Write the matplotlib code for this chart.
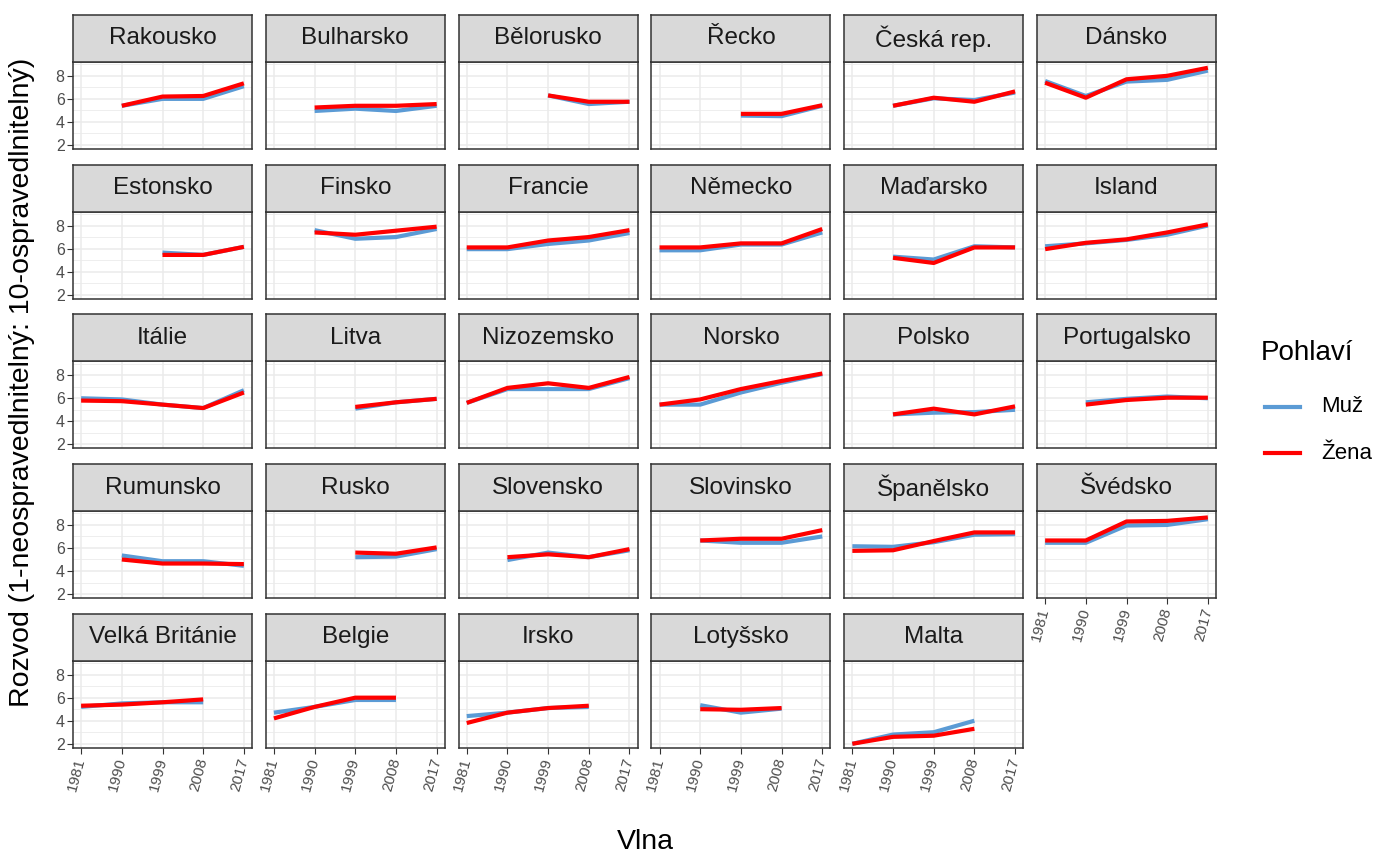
import numpy as np
import matplotlib
matplotlib.use("Agg")
import matplotlib.pyplot as plt
from matplotlib.lines import Line2D

plt.rcParams['font.family'] = ['Liberation Sans', 'DejaVu Sans']

# waves (survey years)
waves = [1981, 1990, 1999, 2008, 2017]

countries = ["Rakousko", "Bulharsko", "Bělorusko", "Řecko", "Česká rep.", "Dánsko",
             "Estonsko", "Finsko", "Francie", "Německo", "Maďarsko", "Island",
             "Itálie", "Litva", "Nizozemsko", "Norsko", "Polsko", "Portugalsko",
             "Rumunsko", "Rusko", "Slovensko", "Slovinsko", "Španělsko", "Švédsko",
             "Velká Británie", "Belgie", "Irsko", "Lotyšsko", "Malta"]

n = np.nan
# Muž
muz = [
    [n, 5.4, 6.0, 6.0, 7.1],
    [n, 4.95, 5.15, 4.95, 5.4],
    [n, n, 6.3, 5.55, 5.75],
    [n, n, 4.55, 4.5, 5.4],
    [n, 5.4, 6.05, 5.9, 6.55],
    [7.55, 6.25, 7.5, 7.65, 8.45],
    [n, n, 5.65, 5.45, 6.15],
    [n, 7.6, 6.85, 7.0, 7.7],
    [5.95, 5.95, 6.4, 6.7, 7.35],
    [5.85, 5.85, 6.35, 6.35, 7.4],
    [n, 5.3, 5.05, 6.2, 6.1],
    [6.2, 6.45, 6.75, 7.2, 8.0],
    [6.0, 5.9, 5.45, 5.15, 6.7],
    [n, n, 5.1, 5.65, 5.95],
    [5.6, 6.8, 6.8, 6.8, 7.75],
    [5.45, 5.45, 6.5, 7.35, 8.1],
    [n, 4.6, 4.75, 4.8, 5.0],
    [n, 5.65, 5.95, 6.15, 6.0],
    [n, 5.35, 4.85, 4.85, 4.45],
    [n, n, 5.2, 5.25, 5.9],
    [n, 4.95, 5.6, 5.2, 5.8],
    [n, 6.65, 6.45, 6.45, 7.0],
    [6.15, 6.1, 6.5, 7.15, 7.2],
    [6.45, 6.45, 7.95, 8.0, 8.5],
    [5.2, 5.5, 5.6, 5.6, n],
    [4.7, 5.2, 5.8, 5.8, n],
    [4.4, 4.7, 5.1, 5.2, n],
    [n, 5.35, 4.7, 5.05, n],
    [2.0, 2.8, 3.0, 4.0, n],
]
# Žena
zena = [
    [n, 5.4, 6.2, 6.25, 7.35],
    [n, 5.25, 5.4, 5.4, 5.55],
    [n, n, 6.3, 5.75, 5.75],
    [n, n, 4.7, 4.7, 5.45],
    [n, 5.4, 6.1, 5.75, 6.65],
    [7.4, 6.1, 7.7, 8.0, 8.7],
    [n, n, 5.45, 5.45, 6.15],
    [n, 7.4, 7.2, 7.55, 7.9],
    [6.1, 6.1, 6.7, 7.0, 7.6],
    [6.1, 6.1, 6.45, 6.45, 7.7],
    [n, 5.2, 4.75, 6.1, 6.1],
    [5.95, 6.5, 6.8, 7.4, 8.1],
    [5.8, 5.75, 5.45, 5.15, 6.5],
    [n, n, 5.25, 5.65, 5.95],
    [5.6, 6.9, 7.3, 6.9, 7.85],
    [5.45, 5.9, 6.8, 7.5, 8.15],
    [n, 4.6, 5.1, 4.6, 5.3],
    [n, 5.45, 5.85, 6.05, 6.05],
    [n, 5.0, 4.65, 4.65, 4.6],
    [n, n, 5.6, 5.5, 6.05],
    [n, 5.2, 5.45, 5.2, 5.9],
    [n, 6.65, 6.8, 6.8, 7.55],
    [5.75, 5.8, 6.6, 7.35, 7.35],
    [6.65, 6.65, 8.3, 8.35, 8.65],
    [5.3, 5.4, 5.6, 5.85, n],
    [4.2, 5.2, 6.0, 6.0, n],
    [3.8, 4.7, 5.1, 5.3, n],
    [n, 5.0, 4.95, 5.1, n],
    [2.0, 2.6, 2.7, 3.3, n],
]

col_muz = "#5B9BD5"
col_zena = "#FF0000"
W, H = 1381, 857
fig = plt.figure(figsize=(W / 100, H / 100), dpi=100)

# layout in pixels
left0, col_step, pw = 73, 192.8, 179
top0, row_step, sh, ph = 15, 149.7, 47, 87
ncol = 6
nrow = 5


def fx(px):
    return px / W


def fy(py):
    return 1 - py / H


for i, name in enumerate(countries):
    r, c = divmod(i, ncol)
    x0 = left0 + c * col_step
    st = top0 + r * row_step
    ax = fig.add_axes([fx(x0), fy(st + sh + ph), pw / W, ph / H])
    sax = fig.add_axes([fx(x0), fy(st + sh), pw / W, sh / H])
    sax.set_facecolor("#D9D9D9")
    sax.set_xticks([])
    sax.set_yticks([])
    for sp in sax.spines.values():
        sp.set_color("#333333")
        sp.set_linewidth(1.1)
    sax.text(0.5, 0.5, name, ha="center", va="center", fontsize=17.5, color="#1A1A1A",
             transform=sax.transAxes)

    ax.plot(waves, muz[i], color=col_muz, lw=3, solid_capstyle="butt")
    ax.plot(waves, zena[i], color=col_zena, lw=3, solid_capstyle="butt")
    ax.set_xlim(1979.2, 2018.8)
    ax.set_ylim(1.65, 9.2)
    ax.set_xticks(waves)
    ax.set_yticks([2, 4, 6, 8])
    ax.set_yticks([3, 5, 7, 9], minor=True)
    ax.grid(True, which="major", color="#EBEBEB", lw=1.1)
    ax.grid(True, which="minor", axis="y", color="#EBEBEB", lw=0.6)
    ax.set_axisbelow(True)
    for sp in ax.spines.values():
        sp.set_color("#333333")
        sp.set_linewidth(1.1)
    ax.tick_params(which="minor", length=0)

    show_x = (r == nrow - 1) or (i + ncol >= len(countries))
    show_y = c == 0
    ax.tick_params(axis="x", length=4 if show_x else 0, color="#333333",
                   labelbottom=show_x, labelsize=11, labelcolor="#4D4D4D")
    ax.tick_params(axis="y", length=4 if show_y else 0, color="#333333",
                   labelleft=show_y, labelsize=11.5, labelcolor="#4D4D4D", pad=2)
    if show_x:
        for lab in ax.get_xticklabels():
            lab.set_rotation(75)
            lab.set_ha("right")
            lab.set_va("center")
            lab.set_rotation_mode("anchor")

fig.text(fx(22), fy(382), "Rozvod (1-neospravedlnitelný: 10-ospravedlnitelný)",
         rotation=90, ha="center", va="center", fontsize=20.5)
fig.text(fx(645), fy(842), "Vlna", ha="center", va="center", fontsize=20.5)

# legend
fig.text(fx(1261), fy(353), "Pohlaví", ha="left", va="center", fontsize=20)
fig.add_artist(Line2D([fx(1265), fx(1300)], [fy(407), fy(407)], color=col_muz, lw=3))
fig.add_artist(Line2D([fx(1265), fx(1300)], [fy(453), fy(453)], color=col_zena, lw=3))
fig.text(fx(1321), fy(407), "Muž", ha="left", va="center", fontsize=16)
fig.text(fx(1321), fy(453), "Žena", ha="left", va="center", fontsize=16)

fig.savefig("out.png", dpi=100)
